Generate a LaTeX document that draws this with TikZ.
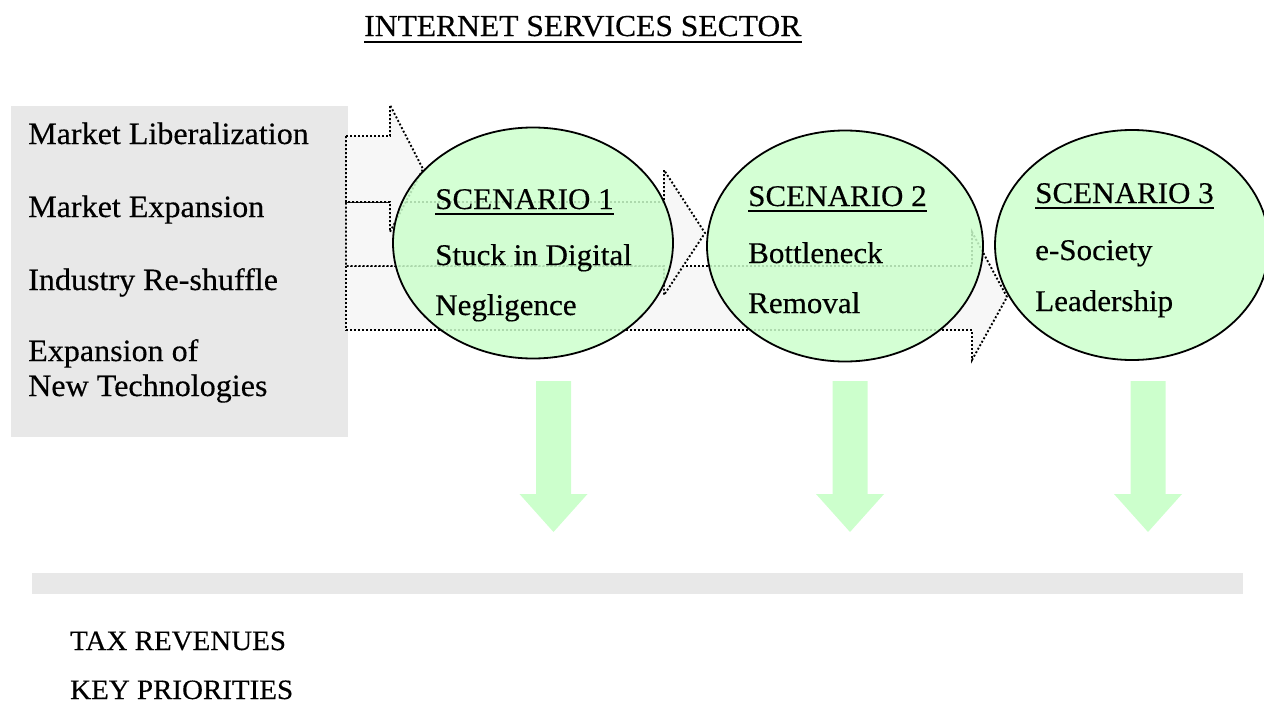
\documentclass[tikz,border=0pt]{standalone}
\usepackage{fontspec}
\setmainfont{Liberation Serif}[FakeStretch=1.035, FakeBold=0.35]
\usetikzlibrary{shapes.geometric}
\definecolor{boxgray}{RGB}{232,232,232}
\definecolor{flowgray}{RGB}{247,247,247}
\definecolor{mint}{RGB}{204,255,204}
\begin{document}
\begin{tikzpicture}[x=1pt,y=-1pt,
  item/.style={anchor=base west, inner sep=0pt, font=\fontsize{31}{37}\selectfont},
  head/.style={anchor=base west, inner sep=0pt, font=\fontsize{30.5}{36}\selectfont},
  scen/.style={anchor=base west, inner sep=0pt, font=\fontsize{30}{36}\selectfont},
  foot/.style={anchor=base west, inner sep=0pt, font=\fontsize{28}{34}\selectfont},
  flow/.style={draw=black, fill=flowgray, line width=1.9pt, dash pattern=on 1.9pt off 2.1pt},
  scenario/.style={ellipse, draw=black, line width=1.8pt, fill=mint, fill opacity=0.85, draw opacity=1, inner sep=0pt},
  uline/.style={line width=1.5pt}
]
\useasboundingbox (0,0) rectangle (1264,704);

% title
\node[head] (title) at (364,36) {INTERNET SERVICES SECTOR};
\draw[uline] ([yshift=-6pt]title.base west) -- ([yshift=-6pt]title.base east);

% drivers panel
\fill[boxgray] (11,106) rectangle (348,437);
\node[item] (d1) at (28,144) {Market Liberalization};
\node[item] (d2) at (28,217) {Market Expansion};
\node[item] (d3) at (28,290) {Industry Re-shuffle};
\node[item] (d4) at (28,361) {Expansion of};
\node[item] (d5) at (28,396) {New Technologies};

% dotted block arrows running from the panel to the scenarios
\draw[flow] (346,266) -- (972,266) -- (972,232) -- (1007,297) -- (972,360) -- (972,330) -- (346,330) -- cycle;
\draw[flow] (346,202) -- (664,202) -- (664,170) -- (705,233) -- (664,295) -- (664,266) -- (346,266) -- cycle;
\draw[flow] (346,136) -- (390,136) -- (390,105) -- (423,169) -- (390,232) -- (390,202) -- (346,202) -- cycle;

% scenarios
\node[scenario, minimum width=280pt, minimum height=231pt] (s1) at (533,243) {};
\node[scenario, minimum width=276pt, minimum height=231pt] (s2) at (845,246) {};
\node[scenario, minimum width=274pt, minimum height=230pt] (s3) at (1132,245) {};

\node[scen] (s1a) at (435,209) {SCENARIO 1};
\draw[uline] ([yshift=-5pt]s1a.base west) -- ([yshift=-5pt]s1a.base east);
\node[scen] (s1b) at (435,265) {Stuck in Digital};
\node[scen] (s1c) at (435,315) {Negligence};

\node[scen] (s2a) at (748,206) {SCENARIO 2};
\draw[uline] ([yshift=-5pt]s2a.base west) -- ([yshift=-5pt]s2a.base east);
\node[scen] (s2b) at (748,263) {Bottleneck};
\node[scen] (s2c) at (748,313) {Removal};

\node[scen] (s3a) at (1035,203) {SCENARIO 3};
\draw[uline] ([yshift=-5pt]s3a.base west) -- ([yshift=-5pt]s3a.base east);
\node[scen] (s3b) at (1035,260) {e-Society};
\node[scen] (s3c) at (1035,311) {Leadership};

% downward arrows
\foreach \cx in {553.5,850,1148}{
  \fill[mint] (\cx-17.5,381) -- (\cx+17.5,381) -- (\cx+17.5,494) -- (\cx+34,494)
    -- (\cx,532) -- (\cx-34,494) -- (\cx-17.5,494) -- cycle;
}

% outcome bar and labels
\fill[boxgray] (32,573) rectangle (1243,594);
\node[foot] (f1) at (70,650) {TAX REVENUES};
\node[foot] (f2) at (70,699) {KEY PRIORITIES};
\end{tikzpicture}
\end{document}
